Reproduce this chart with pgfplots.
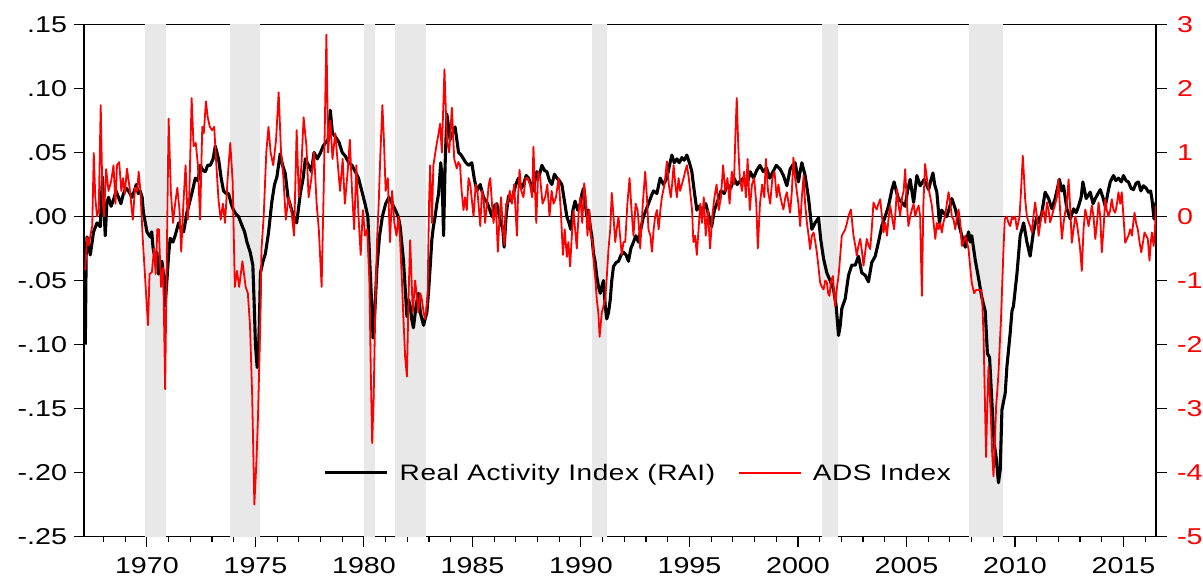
\documentclass[border=0pt]{standalone}
\usepackage{pgfplots}
\pgfplotsset{compat=1.18}
\usepackage{fontspec}
\setmainfont{Liberation Sans}[FakeStretch=1.25]
\definecolor{recgray}{RGB}{232,232,232}
\definecolor{adsred}{RGB}{255,0,0}
\pgfplotsset{
  commonax/.style={
    scale only axis, width=1072bp, height=512bp,
    xmin=1967.1, xmax=2016.5,
    tick align=outside,
    major tick length=10.5bp, minor tick length=5bp,
    major tick style={black, line width=1.1bp},
    minor tick style={black, line width=1.1bp},
    axis line style={black, line width=1.3bp},
    tick label style={font=\fontsize{23}{27}\selectfont},
  }
}
\begin{document}
\begin{tikzpicture}
\path[use as bounding box] (-84bp,-41.5bp) rectangle (1119bp,536.5bp);
\begin{axis}[commonax,
  ymin=-0.25, ymax=0.15,
  xtick={1970,1975,1980,1985,1990,1995,2000,2005,2010,2015},
  xticklabels={1970,1975,1980,1985,1990,1995,2000,2005,2010,2015},
  minor xtick={1968,1969,...,2016},
  ytick={-0.25,-0.20,-0.15,-0.10,-0.05,0,0.05,0.10,0.15},
  yticklabels={-.25,-.20,-.15,-.10,-.05,.00,.05,.10,.15},
  xtick pos=left, ytick pos=left,
  yticklabel style={xshift=-3bp},
  xticklabel style={yshift=-7bp},
]
% recessions
\addplot[fill=recgray, draw=none, forget plot] coordinates {(1969.92,-0.25) (1969.92,0.15) (1970.88,0.15) (1970.88,-0.25)};
\addplot[fill=recgray, draw=none, forget plot] coordinates {(1973.84,-0.25) (1973.84,0.15) (1975.22,0.15) (1975.22,-0.25)};
\addplot[fill=recgray, draw=none, forget plot] coordinates {(1979.98,-0.25) (1979.98,0.15) (1980.53,0.15) (1980.53,-0.25)};
\addplot[fill=recgray, draw=none, forget plot] coordinates {(1981.45,-0.25) (1981.45,0.15) (1982.87,0.15) (1982.87,-0.25)};
\addplot[fill=recgray, draw=none, forget plot] coordinates {(1990.50,-0.25) (1990.50,0.15) (1991.20,0.15) (1991.20,-0.25)};
\addplot[fill=recgray, draw=none, forget plot] coordinates {(2001.10,-0.25) (2001.10,0.15) (2001.83,0.15) (2001.83,-0.25)};
\addplot[fill=recgray, draw=none, forget plot] coordinates {(2007.90,-0.25) (2007.90,0.15) (2009.43,0.15) (2009.43,-0.25)};
% zero line
\addplot[black, line width=0.9bp, forget plot] coordinates {(1967.1,0) (2016.5,0)};
% RAI
\addplot[black, line width=3.1bp, line join=round] coordinates {
(1967.16,-0.100) (1967.20,-0.030) (1967.24,-0.016) (1967.39,-0.030) (1967.54,-0.012) (1967.70,-0.005)
(1967.85,-0.008) (1967.95,0.031) (1968.08,-0.015) (1968.15,0.010) (1968.23,0.015) (1968.35,0.008)
(1968.46,0.013) (1968.58,0.020) (1968.69,0.015) (1968.80,0.010) (1968.92,0.018) (1969.05,0.022)
(1969.15,0.020) (1969.31,0.015) (1969.42,0.020) (1969.51,0.025) (1969.60,0.018) (1969.69,0.020)
(1969.78,0.015) (1969.84,0.003) (1970.00,-0.012) (1970.15,-0.016) (1970.22,-0.012) (1970.28,-0.024)
(1970.38,-0.034) (1970.46,-0.028) (1970.54,-0.045) (1970.62,-0.040) (1970.69,-0.035) (1970.78,-0.048)
(1970.84,-0.070) (1970.92,-0.050) (1971.00,-0.030) (1971.07,-0.017) (1971.20,-0.020) (1971.30,-0.015)
(1971.46,-0.005) (1971.58,-0.010) (1971.69,-0.012) (1971.84,0.003) (1971.95,0.010) (1972.07,0.018)
(1972.23,0.030) (1972.35,0.028) (1972.46,0.040) (1972.58,0.036) (1972.69,0.035) (1972.80,0.040)
(1972.92,0.040) (1973.05,0.045) (1973.15,0.055) (1973.30,0.045) (1973.42,0.030) (1973.53,0.020)
(1973.65,0.018) (1973.76,0.018) (1973.88,0.010) (1973.99,0.005) (1974.10,0.002) (1974.22,0.000)
(1974.38,-0.007) (1974.50,-0.012) (1974.61,-0.020) (1974.76,-0.028) (1974.88,-0.038) (1974.94,-0.067)
(1975.00,-0.100) (1975.08,-0.118) (1975.13,-0.110) (1975.18,-0.085) (1975.23,-0.044) (1975.35,-0.035)
(1975.46,-0.029) (1975.60,-0.013) (1975.76,0.012) (1975.88,0.025) (1975.99,0.031) (1976.14,0.049)
(1976.25,0.040) (1976.37,0.034) (1976.50,0.015) (1976.62,0.008) (1976.76,0.000) (1976.90,-0.005)
(1977.07,0.018) (1977.20,0.030) (1977.30,0.045) (1977.45,0.040) (1977.58,0.035) (1977.70,0.050)
(1977.85,0.045) (1978.00,0.050) (1978.12,0.055) (1978.25,0.058) (1978.35,0.060) (1978.45,0.083)
(1978.55,0.065) (1978.70,0.062) (1978.85,0.058) (1979.00,0.050) (1979.15,0.047) (1979.30,0.042)
(1979.45,0.040) (1979.60,0.035) (1979.75,0.030) (1979.90,0.020) (1980.05,0.010) (1980.18,0.000)
(1980.28,-0.040) (1980.36,-0.070) (1980.42,-0.095) (1980.50,-0.075) (1980.60,-0.040) (1980.72,-0.015)
(1980.85,0.000) (1981.00,0.010) (1981.15,0.015) (1981.30,0.010) (1981.45,0.005) (1981.58,0.000)
(1981.67,-0.008) (1981.82,-0.034) (1981.98,-0.078) (1982.05,-0.065) (1982.13,-0.070) (1982.20,-0.080)
(1982.28,-0.087) (1982.40,-0.070) (1982.51,-0.060) (1982.60,-0.075) (1982.67,-0.080) (1982.75,-0.085)
(1982.82,-0.080) (1982.90,-0.075) (1982.98,-0.058) (1983.05,-0.040) (1983.13,-0.018) (1983.20,-0.008)
(1983.28,0.000) (1983.36,0.010) (1983.44,0.018) (1983.54,0.042) (1983.60,0.030) (1983.67,-0.015)
(1983.74,0.040) (1983.82,0.080) (1983.90,0.070) (1983.97,0.060) (1984.08,0.065) (1984.20,0.070)
(1984.28,0.060) (1984.36,0.050) (1984.48,0.048) (1984.59,0.045) (1984.70,0.042) (1984.82,0.040)
(1984.97,0.042) (1985.08,0.030) (1985.20,0.020) (1985.36,0.025) (1985.51,0.015) (1985.70,0.010)
(1985.90,0.000) (1986.00,0.008) (1986.12,0.010) (1986.28,-0.003) (1986.40,-0.010) (1986.46,-0.024)
(1986.55,0.000) (1986.66,0.016) (1986.78,0.012) (1986.89,0.018) (1987.00,0.025) (1987.12,0.030)
(1987.25,0.022) (1987.35,0.025) (1987.48,0.032) (1987.58,0.030) (1987.70,0.025) (1987.81,0.020)
(1987.90,0.030) (1987.97,0.035) (1988.08,0.032) (1988.20,0.040) (1988.32,0.036) (1988.43,0.035)
(1988.55,0.028) (1988.66,0.025) (1988.78,0.033) (1988.89,0.030) (1989.00,0.028) (1989.12,0.025)
(1989.24,0.012) (1989.35,0.000) (1989.45,-0.005) (1989.53,-0.010) (1989.63,0.005) (1989.73,0.012)
(1989.85,0.005) (1989.97,0.010) (1990.05,0.018) (1990.12,0.022) (1990.20,0.010) (1990.27,0.000)
(1990.35,0.005) (1990.43,-0.008) (1990.50,-0.015) (1990.58,-0.029) (1990.65,-0.035) (1990.73,-0.047)
(1990.81,-0.055) (1990.89,-0.060) (1990.96,-0.055) (1991.04,-0.050) (1991.12,-0.070) (1991.19,-0.080)
(1991.27,-0.075) (1991.35,-0.065) (1991.42,-0.050) (1991.50,-0.039) (1991.62,-0.036) (1991.73,-0.035)
(1991.85,-0.030) (1991.96,-0.028) (1992.08,-0.030) (1992.19,-0.035) (1992.30,-0.025) (1992.42,-0.020)
(1992.53,-0.015) (1992.65,-0.020) (1992.76,-0.010) (1992.88,0.000) (1993.00,0.005) (1993.11,0.010)
(1993.22,0.015) (1993.34,0.020) (1993.50,0.018) (1993.65,0.030) (1993.80,0.025) (1993.96,0.030)
(1994.08,0.040) (1994.19,0.048) (1994.30,0.042) (1994.42,0.045) (1994.53,0.042) (1994.65,0.046)
(1994.76,0.044) (1994.88,0.048) (1995.00,0.042) (1995.11,0.035) (1995.22,0.020) (1995.34,0.005)
(1995.45,0.008) (1995.60,0.005) (1995.75,0.010) (1995.90,0.000) (1996.02,-0.008) (1996.15,0.005)
(1996.30,0.012) (1996.45,0.020) (1996.60,0.018) (1996.75,0.025) (1996.90,0.022) (1997.05,0.030)
(1997.20,0.025) (1997.35,0.028) (1997.50,0.030) (1997.65,0.025) (1997.80,0.035) (1997.95,0.030)
(1998.10,0.036) (1998.25,0.040) (1998.40,0.035) (1998.55,0.038) (1998.70,0.030) (1998.85,0.035)
(1999.00,0.040) (1999.18,0.037) (1999.33,0.032) (1999.49,0.024) (1999.64,0.037) (1999.75,0.040)
(1999.87,0.042) (2000.02,0.027) (2000.10,0.035) (2000.18,0.042) (2000.33,0.032) (2000.49,0.014)
(2000.64,-0.010) (2000.79,-0.005) (2000.95,-0.001) (2001.05,-0.018) (2001.18,-0.033) (2001.33,-0.044)
(2001.48,-0.050) (2001.64,-0.057) (2001.76,-0.070) (2001.87,-0.093) (2001.95,-0.085) (2002.02,-0.072)
(2002.18,-0.064) (2002.33,-0.046) (2002.48,-0.038) (2002.64,-0.038) (2002.79,-0.031) (2002.94,-0.044)
(2003.10,-0.046) (2003.25,-0.051) (2003.40,-0.036) (2003.56,-0.031) (2003.71,-0.020) (2003.87,-0.007)
(2004.02,0.000) (2004.17,0.008) (2004.33,0.021) (2004.43,0.027) (2004.53,0.020) (2004.63,0.014)
(2004.79,0.011) (2004.94,0.008) (2005.05,0.020) (2005.17,0.029) (2005.33,0.011) (2005.48,0.032)
(2005.63,0.024) (2005.82,0.029) (2006.02,0.021) (2006.12,0.028) (2006.22,0.034) (2006.30,0.025)
(2006.40,0.019) (2006.52,-0.005) (2006.62,0.005) (2006.71,0.003) (2006.86,0.000) (2007.00,0.008)
(2007.09,0.014) (2007.25,0.006) (2007.40,-0.005) (2007.55,-0.015) (2007.71,-0.024) (2007.86,-0.012)
(2007.94,-0.020) (2008.01,-0.015) (2008.17,-0.034) (2008.32,-0.048) (2008.47,-0.063) (2008.63,-0.074)
(2008.73,-0.107) (2008.83,-0.110) (2008.93,-0.143) (2009.04,-0.177) (2009.13,-0.188) (2009.24,-0.208)
(2009.32,-0.198) (2009.40,-0.151) (2009.55,-0.138) (2009.63,-0.117) (2009.78,-0.091) (2009.86,-0.074)
(2009.93,-0.070) (2010.09,-0.045) (2010.24,-0.015) (2010.40,-0.005) (2010.55,-0.020) (2010.70,-0.031)
(2010.85,-0.012) (2011.01,0.000) (2011.12,-0.005) (2011.24,0.003) (2011.39,0.019) (2011.55,0.014)
(2011.70,0.006) (2011.85,0.014) (2012.05,0.029) (2012.15,0.020) (2012.24,0.024) (2012.39,0.006)
(2012.55,-0.002) (2012.70,0.006) (2012.82,0.003) (2012.93,0.008) (2013.05,0.015) (2013.13,0.027)
(2013.28,0.014) (2013.47,0.019) (2013.60,0.010) (2013.70,0.014) (2013.93,0.021) (2014.05,0.015)
(2014.16,0.008) (2014.30,0.020) (2014.39,0.027) (2014.54,0.032) (2014.65,0.028) (2014.77,0.030)
(2014.90,0.027) (2015.00,0.032) (2015.12,0.028) (2015.23,0.027) (2015.35,0.022) (2015.46,0.021)
(2015.58,0.026) (2015.69,0.027) (2015.80,0.020) (2015.92,0.024) (2016.05,0.022) (2016.15,0.019)
(2016.25,0.020) (2016.31,0.014) (2016.41,-0.002) (2016.50,0.011)
};
\end{axis}
\begin{axis}[commonax,
  ymin=-5, ymax=3,
  axis x line=none, axis y line*=right,
  ytick={-5,-4,-3,-2,-1,0,1,2,3},
  yticklabels={-5,-4,-3,-2,-1,0,1,2,3},
  yticklabel style={text=adsred, xshift=7bp},
  legend style={draw=none, fill=none, inner sep=0pt, at={(0.2239,0.1246)}, anchor=west,
    legend columns=-1, font=\fontsize{22.5}{27}\selectfont\addfontfeatures{LetterSpace=2.5},
    nodes={inner sep=0pt},
    /tikz/every odd column/.append style={column sep=11bp},
    /tikz/every even column/.append style={column sep=23bp}},
  legend image code/.code={\draw[#1] (0bp,0bp) -- (62bp,0bp);},
]
\addlegendimage{black, line width=2.5bp}
\addlegendentry{Real Activity Index (RAI)}
\addplot[adsred, line width=1.8bp, line join=round] coordinates {
(1967.16,-0.84) (1967.24,-0.33) (1967.32,-0.45) (1967.39,-0.30) (1967.48,-0.15) (1967.55,0.99)
(1967.62,0.30) (1967.70,0.00) (1967.78,0.10) (1967.87,1.74) (1967.95,0.30) (1968.02,0.00)
(1968.12,0.74) (1968.23,0.40) (1968.35,0.55) (1968.46,0.80) (1968.55,0.20) (1968.62,0.80)
(1968.72,0.85) (1968.82,0.40) (1968.90,0.60) (1968.98,0.35) (1969.08,0.75) (1969.20,0.45)
(1969.35,-0.05) (1969.45,0.45) (1969.55,0.40) (1969.62,0.70) (1969.70,0.40) (1969.80,-0.30)
(1969.92,-0.98) (1970.05,-1.70) (1970.12,-0.90) (1970.23,-0.87) (1970.33,-0.50) (1970.40,-0.90)
(1970.48,-0.20) (1970.55,-0.20) (1970.65,-1.10) (1970.75,-0.80) (1970.84,-2.70) (1970.92,-0.50)
(1971.00,1.53) (1971.10,0.40) (1971.20,-0.10) (1971.30,0.20) (1971.40,0.45) (1971.50,0.10)
(1971.58,-0.55) (1971.68,0.20) (1971.78,0.80) (1971.88,-0.05) (1971.95,0.30) (1972.06,1.85)
(1972.15,1.10) (1972.25,1.15) (1972.35,0.80) (1972.45,-0.05) (1972.55,1.40) (1972.62,1.30)
(1972.72,1.80) (1972.80,1.55) (1972.90,1.40) (1973.00,1.35) (1973.10,1.40) (1973.20,0.80)
(1973.30,0.25) (1973.40,-0.05) (1973.50,0.20) (1973.60,-0.10) (1973.72,0.60) (1973.84,1.15)
(1973.95,0.55) (1974.05,-1.10) (1974.15,-0.85) (1974.25,-1.10) (1974.40,-0.70) (1974.55,-1.10)
(1974.65,-1.20) (1974.75,-1.70) (1974.85,-2.80) (1974.95,-4.50) (1975.05,-3.80) (1975.12,-3.10)
(1975.20,-2.00) (1975.28,-0.50) (1975.38,0.00) (1975.50,1.00) (1975.60,1.40) (1975.70,1.00)
(1975.82,0.80) (1975.95,1.20) (1976.07,1.94) (1976.18,1.00) (1976.28,0.65) (1976.40,-0.05)
(1976.52,0.30) (1976.65,0.10) (1976.78,-0.30) (1976.90,1.35) (1977.00,0.30) (1977.12,0.80)
(1977.22,1.55) (1977.35,1.10) (1977.45,0.30) (1977.58,0.60) (1977.70,1.00) (1977.82,0.20)
(1977.92,-0.20) (1978.05,-1.10) (1978.15,0.50) (1978.27,2.84) (1978.35,1.00) (1978.45,1.50)
(1978.55,0.90) (1978.68,1.30) (1978.80,0.80) (1978.90,0.40) (1979.02,0.90) (1979.12,0.20)
(1979.25,0.70) (1979.35,1.20) (1979.45,0.40) (1979.55,-0.20) (1979.65,0.80) (1979.75,0.00)
(1979.85,-0.60) (1979.95,0.10) (1980.05,-0.30) (1980.15,-0.20) (1980.25,-1.00) (1980.32,-2.50)
(1980.38,-3.54) (1980.45,-2.80) (1980.52,-1.50) (1980.60,-0.40) (1980.68,0.20) (1980.76,1.00)
(1980.85,1.74) (1980.92,1.20) (1981.00,0.40) (1981.10,0.60) (1981.20,-0.40) (1981.30,0.40)
(1981.40,-0.10) (1981.50,-0.30) (1981.60,0.00) (1981.67,-0.40) (1981.75,-1.00) (1981.82,-1.60)
(1981.90,-2.20) (1981.98,-2.50) (1982.06,-1.20) (1982.13,-0.37) (1982.25,-1.50) (1982.36,-1.00)
(1982.45,-1.30) (1982.51,-1.50) (1982.60,-1.20) (1982.67,-1.30) (1982.75,-1.50) (1982.82,-1.60)
(1982.93,-1.30) (1983.00,0.20) (1983.05,0.80) (1983.13,-0.10) (1983.20,0.80) (1983.33,1.09)
(1983.44,1.30) (1983.51,1.45) (1983.59,1.00) (1983.71,2.30) (1983.82,1.20) (1983.93,1.00)
(1984.05,1.70) (1984.16,0.90) (1984.28,0.75) (1984.35,0.85) (1984.43,0.80) (1984.50,0.40)
(1984.59,0.10) (1984.66,0.30) (1984.74,0.10) (1984.82,0.60) (1984.90,0.50) (1985.05,0.00)
(1985.15,0.50) (1985.23,0.40) (1985.36,-0.15) (1985.44,0.40) (1985.51,0.30) (1985.58,-0.10)
(1985.66,0.15) (1985.75,0.50) (1985.82,0.60) (1985.90,0.20) (1985.97,-0.10) (1986.08,0.20)
(1986.17,-0.55) (1986.25,0.00) (1986.32,0.30) (1986.40,-0.20) (1986.48,-0.45) (1986.55,0.20)
(1986.62,0.20) (1986.72,0.40) (1986.82,0.20) (1986.92,0.50) (1987.05,-0.30) (1987.10,0.30)
(1987.17,0.73) (1987.25,0.40) (1987.35,0.30) (1987.45,0.60) (1987.55,0.60) (1987.65,0.50)
(1987.75,0.30) (1987.81,1.09) (1987.94,-0.10) (1988.03,0.70) (1988.12,0.60) (1988.23,0.20)
(1988.35,0.30) (1988.45,0.50) (1988.55,0.00) (1988.65,0.40) (1988.74,0.20) (1988.85,0.30)
(1988.97,0.60) (1989.07,0.10) (1989.17,-0.60) (1989.25,-0.20) (1989.35,-0.63) (1989.42,-0.40)
(1989.50,-0.78) (1989.58,-0.30) (1989.66,0.09) (1989.73,-0.20) (1989.81,-0.50) (1989.90,0.10)
(1989.97,0.30) (1990.06,-0.10) (1990.15,0.52) (1990.22,0.30) (1990.30,-0.30) (1990.38,0.10)
(1990.46,-0.30) (1990.53,-0.40) (1990.61,-0.80) (1990.67,-1.00) (1990.73,-1.30) (1990.80,-1.50)
(1990.86,-1.88) (1990.96,-1.50) (1991.04,-1.40) (1991.12,-1.30) (1991.20,-0.90) (1991.27,-0.50)
(1991.35,-0.20) (1991.42,0.37) (1991.50,0.00) (1991.58,-0.40) (1991.65,-0.20) (1991.73,0.00)
(1991.80,-0.30) (1991.88,-0.60) (1991.96,-0.40) (1992.04,-0.40) (1992.14,0.20) (1992.24,0.60)
(1992.33,0.10) (1992.42,-0.30) (1992.52,0.20) (1992.61,0.10) (1992.68,-0.20) (1992.73,-0.50)
(1992.85,0.20) (1992.96,0.70) (1993.04,0.30) (1993.11,-0.20) (1993.20,-0.30) (1993.27,-0.55)
(1993.35,-0.20) (1993.42,0.00) (1993.50,0.10) (1993.58,-0.20) (1993.66,0.10) (1993.73,0.30)
(1993.85,0.50) (1993.96,0.86) (1994.05,0.50) (1994.14,0.30) (1994.20,0.50) (1994.27,0.80)
(1994.35,0.50) (1994.42,0.30) (1994.50,0.60) (1994.57,0.40) (1994.65,0.50) (1994.73,0.60)
(1994.80,0.70) (1994.88,0.80) (1994.97,0.60) (1995.06,0.30) (1995.12,0.10) (1995.18,-0.40)
(1995.26,-0.30) (1995.34,-0.60) (1995.42,-0.20) (1995.50,0.20) (1995.58,-0.10) (1995.66,0.30)
(1995.75,-0.30) (1995.85,0.10) (1995.95,-0.50) (1996.05,0.00) (1996.15,0.30) (1996.25,0.50)
(1996.35,0.10) (1996.45,0.30) (1996.55,0.80) (1996.65,0.40) (1996.75,0.60) (1996.85,0.20)
(1996.95,0.70) (1997.05,0.50) (1997.12,1.30) (1997.18,1.85) (1997.25,1.10) (1997.32,0.60)
(1997.42,0.40) (1997.52,0.70) (1997.60,0.30) (1997.68,0.90) (1997.78,0.10) (1997.88,0.50)
(1997.98,0.60) (1998.08,0.20) (1998.15,-0.50) (1998.25,0.20) (1998.35,0.50) (1998.45,0.30)
(1998.52,0.90) (1998.62,0.40) (1998.72,0.20) (1998.82,0.60) (1998.92,0.70) (1999.02,0.30)
(1999.10,0.50) (1999.18,0.32) (1999.26,0.20) (1999.33,0.11) (1999.42,0.30) (1999.49,0.38)
(1999.57,0.20) (1999.64,0.06) (1999.72,0.40) (1999.79,0.92) (1999.87,0.60) (1999.95,0.38)
(2000.02,0.20) (2000.10,-0.15) (2000.18,0.30) (2000.26,0.64) (2000.33,0.20) (2000.41,-0.09)
(2000.49,-0.30) (2000.56,-0.51) (2000.64,-0.30) (2000.72,-0.25) (2000.80,-0.40) (2000.87,-0.56)
(2000.95,-0.80) (2001.02,-1.03) (2001.10,-1.10) (2001.18,-1.14) (2001.26,-1.00) (2001.33,-1.03)
(2001.39,-1.20) (2001.45,-1.24) (2001.53,-1.00) (2001.61,-0.93) (2001.71,-1.40) (2001.80,-1.10)
(2001.87,-0.93) (2001.95,-0.60) (2002.02,-0.30) (2002.10,-0.25) (2002.18,-0.20) (2002.26,-0.10)
(2002.33,0.01) (2002.44,0.11) (2002.50,-0.10) (2002.56,-0.30) (2002.64,-0.45) (2002.71,-0.61)
(2002.79,-0.45) (2002.87,-0.35) (2002.95,-0.55) (2003.02,-0.77) (2003.10,-0.55) (2003.17,-0.35)
(2003.25,-0.45) (2003.33,-0.51) (2003.40,-0.20) (2003.48,0.22) (2003.56,0.15) (2003.63,0.11)
(2003.71,0.20) (2003.79,0.27) (2003.87,0.00) (2003.94,-0.25) (2004.02,-0.10) (2004.10,-0.30)
(2004.17,-0.05) (2004.25,0.17) (2004.33,0.00) (2004.43,-0.20) (2004.50,0.10) (2004.56,0.43)
(2004.63,0.20) (2004.71,0.01) (2004.80,0.30) (2004.87,0.40) (2004.94,0.74) (2005.02,0.20)
(2005.09,-0.15) (2005.17,0.00) (2005.25,0.11) (2005.33,0.20) (2005.40,0.00) (2005.48,0.10)
(2005.56,0.17) (2005.63,0.00) (2005.71,-1.24) (2005.78,0.20) (2005.86,0.82) (2005.94,0.60)
(2006.02,0.43) (2006.10,0.30) (2006.17,0.17) (2006.25,-0.10) (2006.33,-0.35) (2006.40,-0.10)
(2006.48,-0.20) (2006.55,-0.10) (2006.63,-0.25) (2006.70,-0.10) (2006.78,0.00) (2006.86,0.20)
(2006.94,0.38) (2007.02,0.20) (2007.09,0.00) (2007.17,-0.05) (2007.25,-0.20) (2007.33,0.00)
(2007.40,0.11) (2007.48,-0.10) (2007.55,-0.46) (2007.63,-0.40) (2007.71,-0.30) (2007.79,-0.40)
(2007.86,-0.51) (2007.94,-0.80) (2008.01,-1.04) (2008.12,-1.20) (2008.20,-1.15) (2008.32,-1.15)
(2008.44,-1.15) (2008.50,-1.40) (2008.55,-1.83) (2008.61,-2.80) (2008.67,-3.76) (2008.72,-3.00)
(2008.78,-2.35) (2008.84,-2.80) (2008.89,-3.13) (2008.95,-3.70) (2009.01,-4.06) (2009.07,-3.60)
(2009.13,-2.97) (2009.19,-2.70) (2009.24,-2.45) (2009.30,-2.00) (2009.36,-1.57) (2009.42,-1.00)
(2009.47,-0.52) (2009.53,-0.04) (2009.62,0.00) (2009.70,-0.10) (2009.78,-0.15) (2009.86,0.00)
(2009.93,-0.04) (2010.01,0.00) (2010.09,-0.20) (2010.15,-0.10) (2010.21,0.00) (2010.28,0.40)
(2010.36,0.95) (2010.42,0.60) (2010.47,0.27) (2010.55,0.00) (2010.63,-0.09) (2010.70,-0.15)
(2010.78,-0.25) (2010.85,0.00) (2010.93,0.22) (2011.01,0.00) (2011.09,-0.30) (2011.17,-0.10)
(2011.24,0.06) (2011.32,0.10) (2011.40,-0.10) (2011.47,0.22) (2011.55,0.10) (2011.62,-0.09)
(2011.70,0.00) (2011.78,0.11) (2011.86,0.20) (2011.93,0.30) (2012.00,0.58) (2012.08,0.10)
(2012.16,-0.35) (2012.24,-0.10) (2012.31,0.06) (2012.39,0.20) (2012.47,0.58) (2012.55,0.10)
(2012.62,-0.41) (2012.70,-0.20) (2012.78,0.00) (2012.85,-0.10) (2012.93,-0.30) (2013.00,-0.50)
(2013.08,-0.85) (2013.16,-0.20) (2013.24,0.11) (2013.31,0.00) (2013.39,-0.15) (2013.47,0.00)
(2013.54,0.17) (2013.62,0.00) (2013.70,-0.35) (2013.78,-0.10) (2013.85,0.22) (2013.93,0.00)
(2014.00,-0.56) (2014.08,-0.20) (2014.16,0.27) (2014.23,0.10) (2014.31,0.00) (2014.39,0.10)
(2014.46,0.27) (2014.54,0.10) (2014.62,0.06) (2014.70,0.20) (2014.77,0.38) (2014.85,0.20)
(2014.92,0.38) (2015.00,0.00) (2015.08,-0.41) (2015.16,-0.35) (2015.23,-0.30) (2015.31,-0.20)
(2015.39,-0.30) (2015.45,-0.10) (2015.51,0.06) (2015.58,-0.10) (2015.66,-0.20) (2015.74,-0.40)
(2015.82,-0.56) (2015.90,-0.40) (2015.97,-0.25) (2016.05,-0.30) (2016.12,-0.35) (2016.20,-0.69)
(2016.26,-0.40) (2016.31,-0.25) (2016.39,-0.46) (2016.45,-0.20) (2016.50,0.17)
};
\addlegendentry{ADS Index}
\end{axis}
\end{tikzpicture}
\end{document}
